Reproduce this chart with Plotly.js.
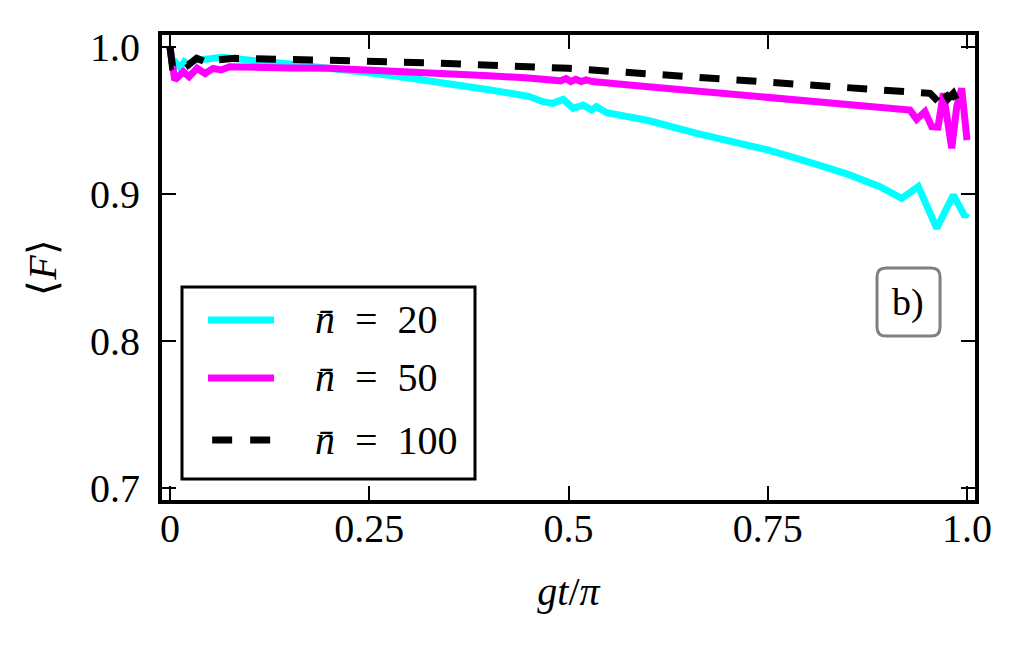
<!DOCTYPE html>
<html>
<head>
<meta charset="utf-8">
<script src="https://cdn.plot.ly/plotly-3.0.1.min.js"></script>
<style>
  body { margin: 0; background: #fff; }
  #plot { width: 1024px; height: 647px; }
</style>
</head>
<body>
<div id="plot"></div>
<script>
// nbar = 20 (cyan)
var t20 = [0, 0.004, 0.008, 0.013, 0.018, 0.024, 0.03, 0.04, 0.05, 0.065, 0.08, 0.1, 0.12, 0.15, 0.2, 0.25, 0.3, 0.35, 0.4, 0.45,
    0.468, 0.48, 0.4935, 0.506, 0.5186, 0.529, 0.535, 0.548, 0.6, 0.661, 0.7, 0.75, 0.8, 0.8156, 0.85, 0.8908, 0.918, 0.9389,
    0.962, 0.9828, 0.9975, 1.0];
var f20 = [1.0, 0.985, 0.989, 0.986, 0.990, 0.988, 0.991, 0.991, 0.992, 0.993, 0.9925, 0.991, 0.990, 0.9885, 0.986, 0.9825,
    0.979, 0.9753, 0.971, 0.9665, 0.9628, 0.9617, 0.9644, 0.9583, 0.9605, 0.9571, 0.9594, 0.9553, 0.950, 0.9413, 0.9365,
    0.930, 0.922, 0.9197, 0.9135, 0.905, 0.8971, 0.905, 0.8767, 0.8993, 0.8846, 0.887];

// nbar = 50 (magenta)
var t50 = [0, 0.006, 0.0167, 0.024, 0.034, 0.044, 0.054, 0.064, 0.075, 0.1, 0.15, 0.2, 0.25, 0.3, 0.35, 0.4, 0.45, 0.477,
    0.484, 0.49, 0.497, 0.503, 0.509, 0.516, 0.522, 0.53, 0.6, 0.7, 0.8156, 0.9285, 0.9368, 0.9473, 0.9557, 0.9636, 0.9703,
    0.9808, 0.9871, 0.9933, 1.0];
var f50 = [1.0, 0.9776, 0.9832, 0.9798, 0.9855, 0.982, 0.9855, 0.9844, 0.9866, 0.986, 0.9858, 0.9855, 0.9845, 0.9832, 0.982,
    0.9805, 0.979, 0.9776, 0.978, 0.977, 0.9785, 0.9765, 0.978, 0.9765, 0.9776, 0.9765, 0.973, 0.968, 0.9626, 0.9571, 0.9508,
    0.956, 0.9458, 0.9456, 0.9685, 0.9311, 0.9594, 0.9719, 0.9367];

// nbar = 100 (black, dashed)
var t100 = [0, 0.003, 0.0125, 0.019, 0.023, 0.0335, 0.044, 0.05, 0.0586, 0.0816, 0.2, 0.326, 0.5, 0.65, 0.799, 0.9536,
    0.964, 0.970, 0.9765, 0.9828, 0.9868, 0.9953];
var f100 = [1.0, 0.987, 0.989, 0.991, 0.9878, 0.9923, 0.990, 0.9923, 0.9912, 0.9923, 0.991, 0.9893, 0.9855, 0.980, 0.9746,
    0.9685, 0.9628, 0.9707, 0.965, 0.9685, 0.964, 0.965];

var seriesNames = ['20', '50', '100'];
var seriesColors = ['#00ffff', '#ff00ff', '#000000'];
var seriesDash = ['solid', 'solid', '20px,17px'];

var xTicks = [0, 0.25, 0.5, 0.75, 1.0];
var xTickText = ['0', '0.25', '0.5', '0.75', '1.0'];
var yTicks = [0.7, 0.8, 0.9, 1.0];
var yTickText = ['0.7', '0.8', '0.9', '1.0'];

var serif = 'Liberation Serif, Times New Roman, serif';
var nb = '\u00a0\u00a0';

var xs = [t20, t50, t100], ys = [f20, f50, f100];
var traces = xs.map(function(x, i) {
    return {
        x: x, y: ys[i], mode: 'lines', showlegend: false,
        line: { color: seriesColors[i], width: 7, dash: seriesDash[i] }
    };
});

// rounded box round the panel label, in paper units
function roundedBox(x0, y0, x1, y1, rx, ry) {
    return 'M' + (x0 + rx) + ',' + y1 + ' L' + (x1 - rx) + ',' + y1 +
        ' Q' + x1 + ',' + y1 + ' ' + x1 + ',' + (y1 - ry) +
        ' L' + x1 + ',' + (y0 + ry) + ' Q' + x1 + ',' + y0 + ' ' + (x1 - rx) + ',' + y0 +
        ' L' + (x0 + rx) + ',' + y0 + ' Q' + x0 + ',' + y0 + ' ' + x0 + ',' + (y0 + ry) +
        ' L' + x0 + ',' + (y1 - ry) + ' Q' + x0 + ',' + y1 + ' ' + (x0 + rx) + ',' + y1 + ' Z';
}

var shapes = [
    // legend frame
    { type: 'rect', xref: 'paper', yref: 'paper', x0: 0.0246, x1: 0.385, y0: 0.0452, y1: 0.4581,
      line: { color: '#000', width: 3 }, fillcolor: '#fff', layer: 'above' },
    // panel label box
    { type: 'path', xref: 'paper', yref: 'paper',
      path: roundedBox(0.8795, 0.3527, 0.957, 0.4989, 0.011, 0.019),
      line: { color: '#808080', width: 3 }, fillcolor: '#fff' }
];
var annotations = [{
    xref: 'paper', yref: 'paper', x: 0.918, y: 0.4258, xanchor: 'center', yanchor: 'middle',
    text: 'b)', showarrow: false,
    font: { family: serif, size: 38, color: '#000' }
}];

// legend rows
var rowY = [0.3871, 0.2624, 0.129];
seriesNames.forEach(function(n, i) {
    shapes.push({
        type: 'line', xref: 'paper', yref: 'paper', layer: 'above',
        x0: i === 2 ? 0.0617 : 0.0566, x1: 0.1378, y0: rowY[i], y1: rowY[i],
        line: { color: seriesColors[i], width: 7, dash: seriesDash[i] === 'solid' ? 'solid' : '20px,18px' }
    });
    annotations.push({
        xref: 'paper', yref: 'paper', x: 0.1857, y: rowY[i], xanchor: 'left', yanchor: 'middle',
        text: '<i>n̄</i>' + nb + '=' + nb + n, showarrow: false,
        font: { family: serif, size: 40, color: '#000' }
    });
});

var axisCommon = {
    showgrid: false,
    zeroline: false,
    showline: true,
    linecolor: '#000',
    linewidth: 4,
    mirror: 'ticks',
    ticks: 'inside',
    ticklen: 14,
    tickwidth: 2,
    tickcolor: '#000',
    tickfont: { family: serif, size: 40, color: '#000' }
};

var layout = {
    width: 1024,
    height: 647,
    margin: { l: 162, r: 49, t: 35, b: 147 },
    paper_bgcolor: '#fff',
    plot_bgcolor: '#fff',
    font: { family: serif, color: '#000' },
    showlegend: false,
    xaxis: Object.assign({}, axisCommon, {
        range: [-0.010, 1.010],
        tickvals: xTicks,
        ticktext: xTickText,
        ticklabelstandoff: -10,
        title: { text: '<i>gt</i>/<i>π</i>', font: { family: serif, size: 40 }, standoff: 28 }
    }),
    yaxis: Object.assign({}, axisCommon, {
        range: [0.6918, 1.0082],
        tickvals: yTicks,
        ticktext: yTickText,
        ticklabelstandoff: 10,
        title: { text: '⟨<i>F</i>⟩', font: { family: serif, size: 40 }, standoff: 22 }
    }),
    shapes: shapes,
    annotations: annotations
};

Plotly.newPlot('plot', traces, layout, { displayModeBar: false, staticPlot: true });
</script>
</body>
</html>
